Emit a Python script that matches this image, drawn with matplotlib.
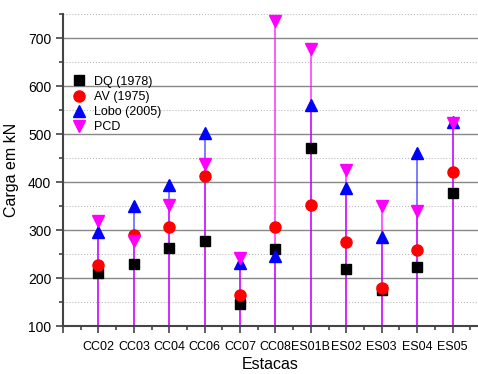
import numpy as np
import matplotlib
matplotlib.use('Agg')
import matplotlib.pyplot as plt
from matplotlib.ticker import MultipleLocator

plt.rcParams['font.family'] = ['Liberation Sans', 'DejaVu Sans']

estacas = ['CC02', 'CC03', 'CC04', 'CC06', 'CC07', 'CC08', 'ES01B', 'ES02', 'ES03', 'ES04', 'ES05']
dq = [210, 230, 262, 277, 145, 260, 470, 218, 175, 222, 377]
av = [227, 290, 306, 412, 165, 307, 352, 276, 180, 258, 420]
lobo = [295, 350, 393, 502, 232, 245, 560, 388, 285, 460, 525]
pcd = [318, 277, 352, 437, 242, 735, 677, 425, 350, 340, 522]

x = np.arange(1, len(estacas) + 1)

fig = plt.figure(figsize=(4.78, 3.74), dpi=100)
ax = fig.add_axes([63 / 478, 48 / 374, 1 - 63 / 478, 312 / 374])

# drop lines
ax.vlines(x, 100, lobo, colors='blue', alpha=0.6, lw=1.2, zorder=2)
ax.vlines(x, 100, pcd, colors='magenta', alpha=0.75, lw=1.2, zorder=2)

ax.plot(x, dq, 's', color='black', ms=7, ls='none', label='DQ (1978)', zorder=3)
ax.plot(x, av, 'o', color='red', ms=8, ls='none', label='AV (1975)', zorder=3)
ax.plot(x, lobo, '^', color='blue', ms=9, ls='none', label='Lobo (2005)', zorder=3)
ax.plot(x, pcd, 'v', color='magenta', ms=9, ls='none', label='PCD', zorder=3)

ax.set_xlim(0, 11.72)
ax.set_ylim(100, 750)
ax.set_xticks(np.arange(0, 12))
ax.set_xticklabels([''] + estacas, fontsize=9)
ax.xaxis.set_minor_locator(MultipleLocator(0.5))
ax.yaxis.set_minor_locator(MultipleLocator(50))
ax.set_yticks(np.arange(100, 701, 100))
ax.tick_params(axis='y', labelsize=10)
ax.tick_params(axis='x', pad=6)
ax.tick_params(which='both', direction='out', color='#444444', width=1.2)
ax.tick_params(which='major', length=5)
ax.tick_params(which='minor', length=3)

ax.grid(axis='y', which='major', color='#888888', lw=1)
ax.grid(axis='y', which='minor', color='#bbbbbb', lw=0.8, ls=':')
ax.set_axisbelow(True)

for s in ['top', 'right']:
    ax.spines[s].set_visible(False)
for s in ['left', 'bottom']:
    ax.spines[s].set_color('#444444')
    ax.spines[s].set_linewidth(1.5)

ax.set_xlabel('Estacas', fontsize=11.5, labelpad=3)
ax.set_ylabel('Carga em kN', fontsize=11.5, labelpad=6)

ax.legend(loc='upper left', bbox_to_anchor=(0.0, 0.83), frameon=False, fontsize=9,
          handletextpad=0.6, labelspacing=0.25, borderaxespad=0.3, handlelength=1.2)

fig.savefig('out.png', dpi=100)
